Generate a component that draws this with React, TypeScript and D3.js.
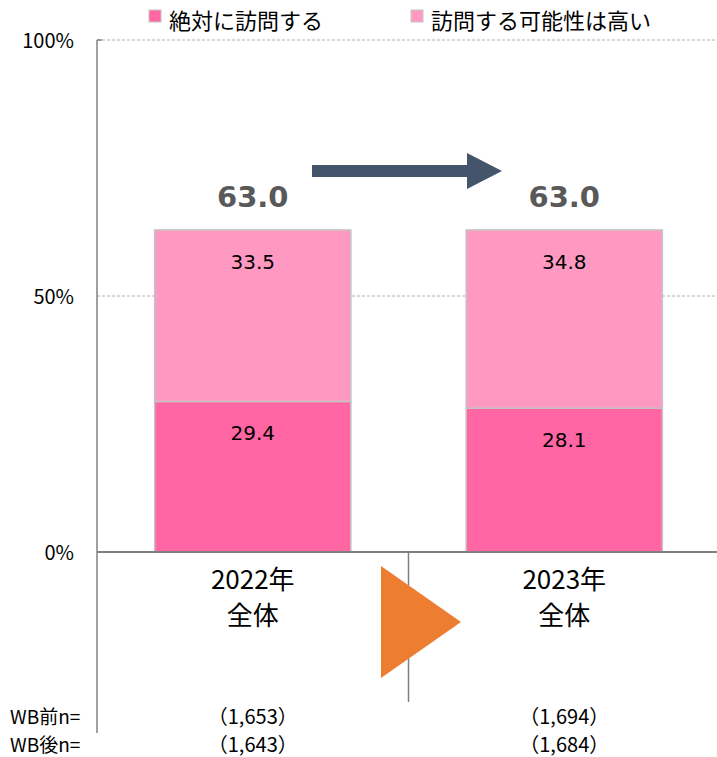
import React, { useEffect, useRef } from 'react';
import * as d3 from 'd3';

const categories = ['2022年\n全体', '2023年\n全体'];
const series = ['絶対に訪問する', '訪問する可能性は高い'];
const absolutely = [29.4, 28.1];
const likely = [33.5, 34.8];
const totals = [63.0, 63.0];
const nBefore = ['(1,653)', '(1,694)'];
const nAfter = ['(1,643)', '(1,684)'];
const yTicks = [0, 50, 100];

const colors = ['#FF66A3', '#FF99C2'];
const JP = '"Noto Sans CJK JP", "Noto Sans", sans-serif';
const NUM = '"DejaVu Sans", Verdana, sans-serif';

const App = () => {
  const svgRef = useRef<SVGSVGElement>(null);

  useEffect(() => {
    const W = 717;
    const H = 757;
    const left = 97;
    const right = 720;
    const top = 40;
    const bottom = 552;

    const svg = d3.select(svgRef.current).attr('width', W).attr('height', H);
    svg.selectAll('*').remove();

    const x = d3.scaleBand().domain(categories).range([left, right]).paddingInner(0.37).paddingOuter(0.185);
    const y = d3.scaleLinear().domain([0, 100]).range([bottom, top]);

    // gridlines
    svg.append('g')
      .selectAll('line')
      .data(yTicks.filter(d => d > 0))
      .enter().append('line')
      .attr('x1', left).attr('x2', W)
      .attr('y1', d => y(d)).attr('y2', d => y(d))
      .attr('stroke', '#b0b0b0')
      .attr('stroke-dasharray', '3,2')
      .attr('stroke-width', 1);

    // y labels
    svg.append('g')
      .selectAll('text')
      .data(yTicks)
      .enter().append('text')
      .attr('x', 74)
      .attr('y', d => y(d) + 8)
      .attr('text-anchor', 'end')
      .style('font-family', JP)
      .style('font-size', '20px')
      .attr('fill', '#000')
      .text(d => `${d}%`);

    // stacked bars
    const stack = categories.map((c, i) => ({ c, i, vals: [absolutely[i], likely[i]] }));
    stack.forEach(s => {
      let acc = 0;
      s.vals.forEach((v, k) => {
        const y0 = acc;
        const y1 = acc + v;
        acc = y1;
        svg.append('rect')
          .attr('x', x(s.c)!)
          .attr('width', x.bandwidth())
          .attr('y', y(y1))
          .attr('height', y(y0) - y(y1))
          .attr('fill', colors[k])
          .attr('stroke', '#c4c4c4')
          .attr('stroke-width', 1.5);
        svg.append('text')
          .attr('x', x(s.c)! + x.bandwidth() / 2)
          .attr('y', y(y1) + 39)
          .attr('text-anchor', 'middle')
          .style('font-family', NUM)
          .style('font-size', '20px')
          .attr('fill', '#000')
          .text(v.toFixed(1));
      });
      svg.append('text')
        .attr('x', x(s.c)! + x.bandwidth() / 2)
        .attr('y', y(totals[s.i]) - 22)
        .attr('text-anchor', 'middle')
        .style('font-family', NUM)
        .style('font-size', '29px')
        .style('font-weight', 'bold')
        .attr('fill', '#595959')
        .text(totals[s.i].toFixed(1));
    });

    // axes lines
    svg.append('line')
      .attr('x1', left).attr('x2', W).attr('y1', bottom).attr('y2', bottom)
      .attr('stroke', '#808080').attr('stroke-width', 2);
    svg.append('line')
      .attr('x1', left).attr('x2', left).attr('y1', top).attr('y2', 733)
      .attr('stroke', '#808080').attr('stroke-width', 1.5);
    svg.append('line')
      .attr('x1', left).attr('x2', left + 5).attr('y1', top).attr('y2', top)
      .attr('stroke', '#808080').attr('stroke-width', 1.5);
    const mid = (x(categories[0])! + x.bandwidth() + x(categories[1])!) / 2;
    svg.append('line')
      .attr('x1', mid).attr('x2', mid).attr('y1', bottom).attr('y2', 702)
      .attr('stroke', '#808080').attr('stroke-width', 1.5);

    // arrow
    const ay = 171;
    svg.append('path')
      .attr('d', `M312,${ay - 6} L467,${ay - 6} L467,${ay - 18} L502,${ay} L467,${ay + 18} L467,${ay + 6} L312,${ay + 6} Z`)
      .attr('fill', '#44546A');

    // orange triangle
    svg.append('path')
      .attr('d', `M381,566 L461,622 L381,678 Z`)
      .attr('fill', '#ED7D31');

    // category labels
    categories.forEach(c => {
      const cx = x(c)! + x.bandwidth() / 2;
      c.split('\n').forEach((line, j) => {
        svg.append('text')
          .attr('x', cx)
          .attr('y', 589 + j * 36)
          .attr('text-anchor', 'middle')
          .style('font-family', JP)
          .style('font-size', '26px')
          .attr('fill', '#000')
          .text(line);
      });
    });

    // n rows
    const rows = [{ label: 'WB前n=', vals: nBefore, yy: 724 }, { label: 'WB後n=', vals: nAfter, yy: 752 }];
    rows.forEach(r => {
      svg.append('text')
        .attr('x', 10).attr('y', r.yy)
        .style('font-family', JP).style('font-size', '19px')
        .attr('fill', '#000')
        .text(r.label);
      categories.forEach((c, i) => {
        svg.append('text')
          .attr('x', x(c)! + x.bandwidth() / 2)
          .attr('y', r.yy)
          .attr('text-anchor', 'middle')
          .style('font-family', JP).style('font-size', '20px')
          .attr('fill', '#000')
          .text(r.vals[i].replace('(', '（').replace(')', '）'));
      });
    });

    // legend
    const legX = [149, 411];
    series.forEach((s, i) => {
      svg.append('rect')
        .attr('x', legX[i]).attr('y', 10).attr('width', 12).attr('height', 12)
        .attr('fill', colors[i]).attr('stroke', '#c4c4c4').attr('stroke-width', 1);
      svg.append('text')
        .attr('x', legX[i] + 20).attr('y', 29)
        .style('font-family', JP).style('font-size', '22px')
        .attr('fill', '#000')
        .text(s);
    });
  }, []);

  return <svg ref={svgRef} style={{ position: 'absolute', left: 0, top: 0 }}></svg>;
};

export default App;
